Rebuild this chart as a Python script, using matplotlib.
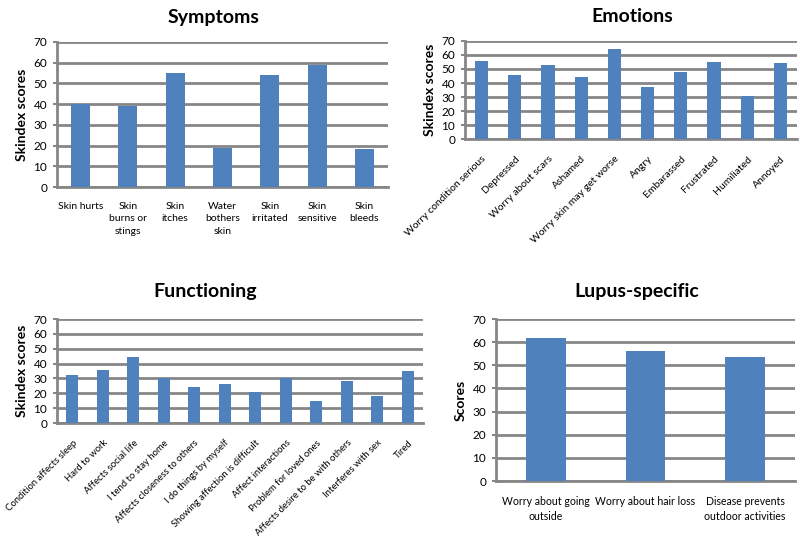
import numpy as np
import matplotlib
matplotlib.use("Agg")
import matplotlib.pyplot as plt

plt.rcParams['font.family'] = ['Lato', 'DejaVu Sans']

# Symptoms
symptoms_labels = ["Skin hurts", "Skin\nburns or\nstings", "Skin\nitches", "Water\nbothers\nskin",
                   "Skin\nirritated", "Skin\nsensitive", "Skin\nbleeds"]
symptoms_values = [40, 39, 55, 19, 54, 59, 18.5]

# Emotions
emotions_labels = ["Worry condition serious", "Depressed", "Worry about scars", "Ashamed",
                   "Worry skin may get worse", "Angry", "Embarassed", "Frustrated",
                   "Humiliated", "Annoyed"]
emotions_values = [56, 45.5, 53, 44, 64.5, 37, 48, 55, 31, 54]

# Functioning
functioning_labels = ["Condition affects sleep", "Hard to work", "Affects social life",
                      "I tend to stay home", "Affects closeness to others", "I do things by myself",
                      "Showing affection is difficult", "Affect interactions",
                      "Problem for loved ones", "Affects desire to be with others",
                      "Interferes with sex", "Tired"]
functioning_values = [32.5, 35.5, 44.5, 30.5, 24, 26, 21, 30.5, 14.5, 28, 18, 35]

# Lupus-specific
lupus_labels = ["Worry about going\noutside", "Worry about hair loss", "Disease prevents\noutdoor activities"]
lupus_values = [62, 56, 53.5]

W, H = 800, 547
fig = plt.figure(figsize=(8, 5.47), dpi=100)

bar_color = "#4F81BD"
grid_color = "#868686"


def px_axes(left, top, right, bottom):
    return fig.add_axes([left / W, (H - bottom) / H, (right - left) / W, (bottom - top) / H])


def draw(ax, labels, values, ylabel, rot=0, xsize=7.5):
    x = np.arange(len(values))
    ax.bar(x, values, width=0.4, color=bar_color, zorder=3)
    ax.set_xlim(-0.5, len(values) - 0.5)
    ax.set_ylim(0, 70)
    ax.set_yticks(range(0, 71, 10))
    ax.yaxis.grid(True, color=grid_color, linewidth=2, zorder=0)
    ax.set_axisbelow(True)
    for s in ["top", "right"]:
        ax.spines[s].set_visible(False)
    for s in ["left", "bottom"]:
        ax.spines[s].set_color(grid_color)
        ax.spines[s].set_linewidth(2)
    ax.tick_params(axis="y", length=3, width=1.5, color=grid_color, labelsize=8.5, pad=4)
    ax.tick_params(axis="x", length=0, labelsize=xsize, pad=11)
    ax.set_xticks(x)
    if rot:
        ax.set_xticklabels(labels, rotation=rot, ha="right", rotation_mode="anchor")
    else:
        ax.set_xticklabels(labels, linespacing=1.45)
    ax.set_ylabel(ylabel, fontsize=10, fontweight="bold", labelpad=4)


ax1 = px_axes(57, 42, 388, 187)
draw(ax1, symptoms_labels, symptoms_values, "Skindex scores")

ax2 = px_axes(465, 41, 797, 139)
draw(ax2, emotions_labels, emotions_values, "Skindex scores", rot=45)

ax3 = px_axes(57, 319, 423, 423)
draw(ax3, functioning_labels, functioning_values, "Skindex scores", rot=45, xsize=6.8)

ax4 = px_axes(496, 319, 795, 481)
draw(ax4, lupus_labels, lupus_values, "Scores", xsize=7.6)

fig.text(214 / W, 1 - 17 / H, "Symptoms", ha="center", va="center", fontsize=14, fontweight="bold")
fig.text(632 / W, 1 - 17 / H, "Emotions", ha="center", va="center", fontsize=14, fontweight="bold")
fig.text(205 / W, 1 - 292 / H, "Functioning", ha="center", va="center", fontsize=14, fontweight="bold")
fig.text(637 / W, 1 - 292 / H, "Lupus-specific", ha="center", va="center", fontsize=14, fontweight="bold")

fig.savefig("out.png", dpi=100)
